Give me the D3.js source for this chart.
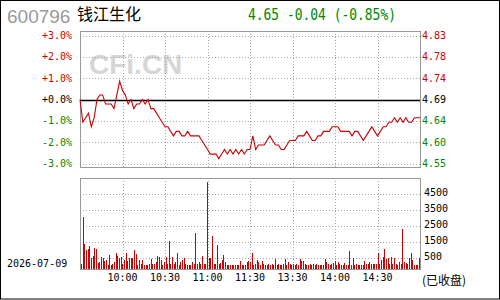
<!DOCTYPE html>
<html>
<head>
<meta charset="utf-8">
<script src="https://cdn.jsdelivr.net/npm/d3@7"></script>
<style>
  body { margin: 0; background: #fff; }
  svg { display: block; }
  .mono { font-family: "DejaVu Sans Mono", "Liberation Mono", monospace; font-size: 10px; }
</style>
</head>
<body>
<script>
// stock header
var code = "600796",
    stockName = "钱江生化",
    lastPrice = 4.65,
    change = -0.04,
    changePct = -0.85,
    prevClose = 4.69,
    tradeDate = "2026-07-09",
    status = "(已收盘)";

// axis ticks
var pctTicks = [3, 2, 1, 0, -1, -2, -3];
var pctLabels = ["+3.0%", "+2.0%", "+1.0%", "+0.0%", "-1.0%", "-2.0%", "-3.0%"];
var priceLabels = ["4.83", "4.78", "4.74", "4.69", "4.64", "4.60", "4.55"];
var timeLabels = ["10:00", "10:30", "11:00", "11:30", "13:30", "14:00", "14:30"];
var volTicks = [500, 1500, 2500, 3500, 4500];

// price every 2 minutes
var prices = [
  4.69, 4.64, 4.65, 4.66, 4.63, 4.65, 4.69, 4.70, 4.70, 4.68,
  4.68, 4.68, 4.67, 4.70, 4.73, 4.71, 4.70, 4.68, 4.69, 4.67,
  4.68, 4.68, 4.69, 4.68, 4.69, 4.67, 4.67, 4.66, 4.65, 4.64,
  4.63, 4.63, 4.62, 4.61, 4.62, 4.62, 4.61, 4.61, 4.62, 4.61,
  4.61, 4.61, 4.61, 4.60, 4.59, 4.58, 4.57, 4.57, 4.57, 4.56,
  4.57, 4.58, 4.57, 4.58, 4.57, 4.58, 4.57, 4.58, 4.57, 4.58,
  4.58, 4.61, 4.58, 4.59, 4.59, 4.59, 4.60, 4.61, 4.60, 4.59,
  4.59, 4.58, 4.58, 4.59, 4.60, 4.60, 4.60, 4.61, 4.61, 4.61,
  4.62, 4.61, 4.60, 4.60, 4.61, 4.61, 4.62, 4.62, 4.62, 4.63,
  4.63, 4.63, 4.62, 4.62, 4.62, 4.62, 4.61, 4.62, 4.62, 4.61,
  4.60, 4.61, 4.62, 4.63, 4.62, 4.61, 4.62, 4.63, 4.63, 4.64,
  4.64, 4.65, 4.64, 4.65, 4.64, 4.65, 4.64, 4.64, 4.65, 4.65,
  4.65
];

// volume bars
var volumes = [
  80, 3040, 1330, 960, 1020, 1210, 440, 580, 1080, 1020,
  170, 230, 540, 440, 290, 330, 20, 650, 20, 120,
  190, 790, 580, 440, 540, 80, 330, 790, 290, 500,
  500, 500, 960, 710, 20, 330, 120, 330, 20, 20,
  20, 120, 400, 120, 120, 230, 580, 540, 330, 20,
  230, 540, 120, 1540, 120, 540, 80, 230, 790, 20,
  190, 330, 500, 120, 20, 20, 20, 230, 80, 2040,
  120, 230, 120, 580, 120, 120, 5230, 480, 480, 1830,
  80, 120, 1270, 120, 170, 330, 650, 230, 20, 20,
  60, 20, 60, 60, 60, 60, 270, 20, 20, 20,
  190,
  290, 190, 810, 20, 120, 330, 190, 60, 270, 120,
  60, 20, 80, 60, 120, 20, 400, 60, 120, 20,
  20, 120, 400, 60, 190, 120, 60, 80, 60, 120,
  20, 400, 270, 270, 120, 60, 20, 80, 60, 80,
  60, 80, 60, 20, 20, 60, 400, 190, 120, 60,
  120, 170, 270, 60, 190, 120, 60, 20, 170, 60,
  60, 890, 60, 440, 60, 80, 60, 60, 20, 20,
  270, 120, 80, 190, 120, 120, 120, 120, 790, 120,
  370, 540, 1060, 400, 480, 120, 540, 120, 480, 120,
  60, 190, 120, 2270, 190, 170, 80, 480, 790, 330,
  60, 20, 60, 480
];

var width = 500, height = 300;
var left = 80, right = 420;
var red = "#cc0000", green = "#008800", grid = "#a8a8a8", frame = "#999999";

var svg = d3.select("body").append("svg")
    .attr("width", width)
    .attr("height", height);

// outer border
svg.append("rect")
    .attr("x", 0.5).attr("y", 0.5)
    .attr("width", 499).attr("height", 298.5)
    .attr("fill", "none").attr("stroke", "#000");

// header
svg.append("text")
    .attr("x", 7).attr("y", 23)
    .attr("font-family", "Liberation Sans, Arial, sans-serif")
    .attr("font-size", 19).attr("fill", "#999")
    .text(code);
svg.append("text")
    .attr("x", 77).attr("y", 20)
    .attr("font-family", "Noto Sans CJK SC, sans-serif")
    .attr("font-size", 16).attr("fill", "#000")
    .text(stockName);
svg.append("text")
    .attr("x", 248).attr("y", 20)
    .attr("font-family", "DejaVu Sans Mono, monospace")
    .attr("font-size", 15).attr("fill", green)
    .attr("textLength", 148).attr("lengthAdjust", "spacingAndGlyphs")
    .text(lastPrice.toFixed(2) + " " + change.toFixed(2) + " (" + changePct.toFixed(2) + "%)");

// scales
var xTime = d3.scaleLinear().domain([0, 8]).range([left, right]);
var yPct = d3.scaleLinear().domain([-3, 3]).range([163.5, 35.5]);
var xPrice = d3.scaleLinear().domain([0, prices.length - 1]).range([left, right]);
var xVol = d3.scaleLinear().domain([0, volumes.length - 1]).range([left + 1, right - 1]);
var yVol = d3.scaleLinear().domain([-250, 5437.5]).range([269.5, 178.5]);

function crisp(v) { return Math.round(v) + 0.5; }

// watermark
svg.append("text")
    .attr("x", 89).attr("y", 74)
    .attr("font-family", "Liberation Sans, Arial, sans-serif")
    .attr("font-weight", "bold")
    .attr("font-size", 28).attr("fill", "#d6d6d6")
    .text("CFi.CN");

// price panel grid
var pricePanel = svg.append("g");
pricePanel.selectAll(".hgrid")
    .data(pctTicks.filter(function(d){ return d !== 0; }))
    .enter().append("line")
    .attr("x1", left).attr("x2", right)
    .attr("y1", function(d){ return crisp(yPct(d)); })
    .attr("y2", function(d){ return crisp(yPct(d)); })
    .attr("stroke", grid).attr("stroke-dasharray", "1,2");
pricePanel.selectAll(".vgrid")
    .data(d3.range(1, 8))
    .enter().append("line")
    .attr("x1", function(d){ return crisp(xTime(d)); })
    .attr("x2", function(d){ return crisp(xTime(d)); })
    .attr("y1", 31).attr("y2", 168)
    .attr("stroke", grid).attr("stroke-dasharray", "1,2");

pricePanel.append("rect")
    .attr("x", left + 0.5).attr("y", 31.5)
    .attr("width", right - left).attr("height", 136)
    .attr("fill", "none").attr("stroke", frame);

// zero line
pricePanel.append("line")
    .attr("x1", left).attr("x2", right)
    .attr("y1", crisp(yPct(0))).attr("y2", crisp(yPct(0)))
    .attr("stroke", "#000").attr("stroke-width", 1.3);

function tickColor(d) { return d > 0 ? red : (d < 0 ? green : "#000"); }

// left percent labels
pricePanel.selectAll(".pctLabel")
    .data(pctTicks)
    .enter().append("text")
    .attr("class", "mono")
    .attr("x", 72)
    .attr("y", function(d){ return yPct(d); })
    .attr("dy", "0.35em")
    .attr("text-anchor", "end")
    .attr("fill", tickColor)
    .text(function(d, i){ return pctLabels[i]; });

// right price labels
pricePanel.selectAll(".priceLabel")
    .data(pctTicks)
    .enter().append("text")
    .attr("class", "mono")
    .attr("x", 422)
    .attr("y", function(d){ return yPct(d); })
    .attr("dy", "0.35em")
    .attr("fill", tickColor)
    .text(function(d, i){ return priceLabels[i]; });

// price line
var line = d3.line()
    .x(function(d, i){ return xPrice(i); })
    .y(function(d){ return yPct((d - prevClose) / prevClose * 100); });
pricePanel.append("path")
    .datum(prices)
    .attr("d", line)
    .attr("fill", "none")
    .attr("stroke", red)
    .attr("stroke-width", 1.1);

// volume panel
var volPanel = svg.append("g");
volPanel.selectAll(".vhgrid")
    .data(volTicks)
    .enter().append("line")
    .attr("x1", left).attr("x2", right)
    .attr("y1", function(d){ return crisp(yVol(d)); })
    .attr("y2", function(d){ return crisp(yVol(d)); })
    .attr("stroke", grid).attr("stroke-dasharray", "1,2");
volPanel.selectAll(".vvgrid")
    .data(d3.range(1, 8))
    .enter().append("line")
    .attr("x1", function(d){ return crisp(xTime(d)); })
    .attr("x2", function(d){ return crisp(xTime(d)); })
    .attr("y1", 178).attr("y2", 270)
    .attr("stroke", grid).attr("stroke-dasharray", "1,2");

volPanel.selectAll(".bar")
    .data(volumes)
    .enter().append("rect")
    .attr("x", function(d, i){ return Math.round(xVol(i)); })
    .attr("width", 1)
    .attr("y", function(d){ return Math.round(yVol(d)); })
    .attr("height", function(d){ return 270 - Math.round(yVol(d)); })
    .attr("fill", red)
    .attr("shape-rendering", "crispEdges");

volPanel.append("rect")
    .attr("x", left + 0.5).attr("y", 178.5)
    .attr("width", right - left).attr("height", 91)
    .attr("fill", "none").attr("stroke", frame);

volPanel.selectAll(".volLabel")
    .data(volTicks)
    .enter().append("text")
    .attr("class", "mono")
    .attr("x", 424)
    .attr("y", function(d){ return yVol(d) - 1; })
    .attr("dy", "0.35em")
    .attr("fill", "#000")
    .text(function(d){ return d; });

// time labels
svg.selectAll(".timeLabel")
    .data(timeLabels)
    .enter().append("text")
    .attr("class", "mono")
    .attr("x", function(d, i){ return xTime(i + 1); })
    .attr("y", 277)
    .attr("dy", "0.35em")
    .attr("text-anchor", "middle")
    .attr("fill", "#000")
    .text(function(d){ return d; });

svg.append("text")
    .attr("class", "mono")
    .attr("x", 7).attr("y", 263)
    .attr("dy", "0.35em")
    .attr("fill", "#000")
    .text(tradeDate);

svg.append("text")
    .attr("x", 422).attr("y", 281)
    .attr("dy", "0.35em")
    .attr("font-family", "Noto Sans CJK SC, sans-serif")
    .attr("font-size", 12)
    .attr("fill", "#000")
    .text(status);
</script>
</body>
</html>
